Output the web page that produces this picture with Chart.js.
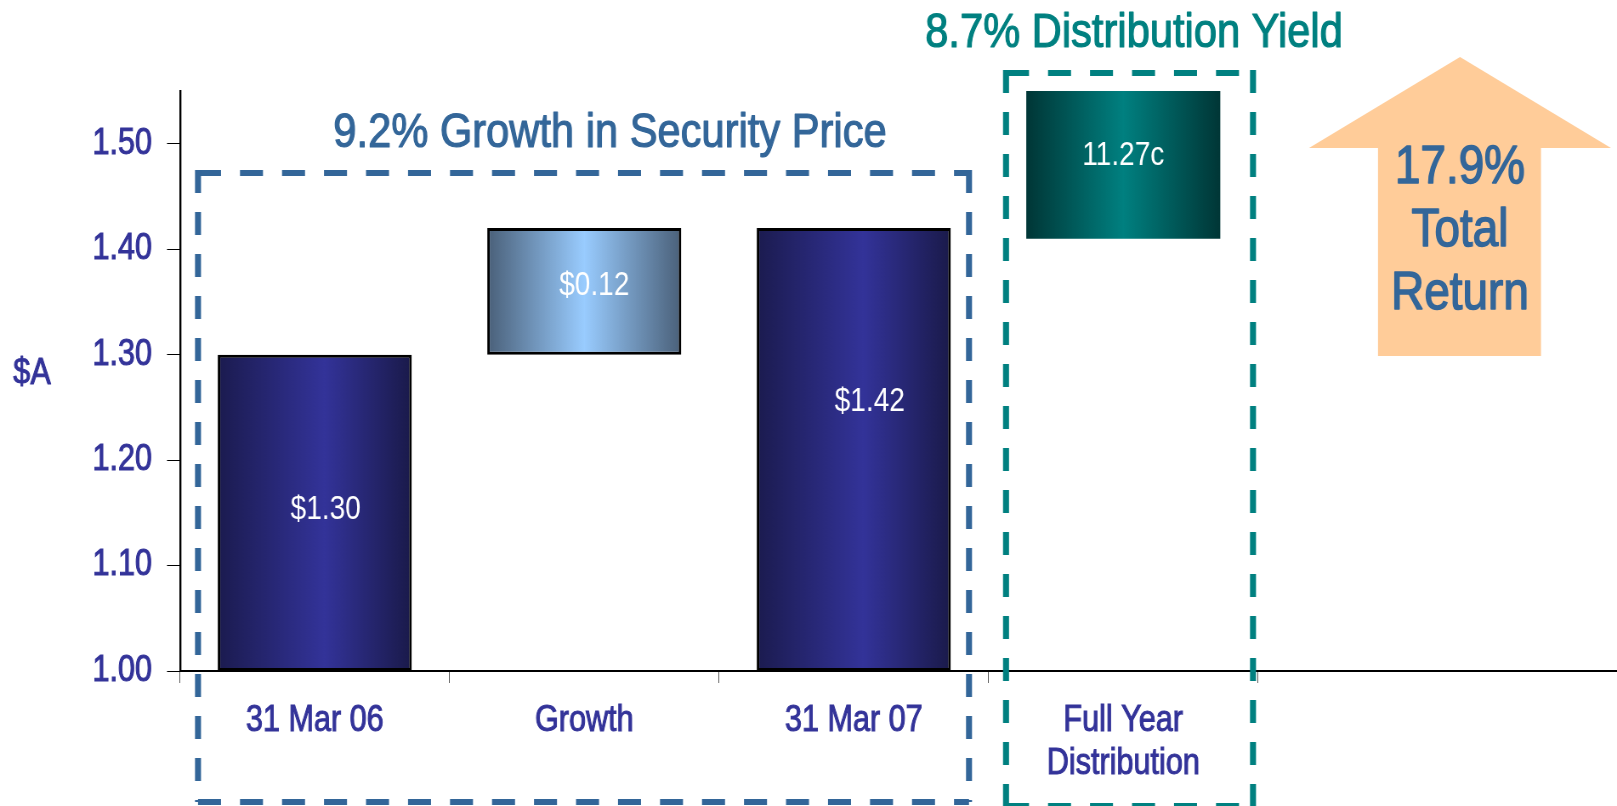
<!DOCTYPE html>
<html>
<head>
<meta charset="utf-8">
<title>Total Return</title>
<script src="https://cdn.jsdelivr.net/npm/chart.js@4.4.1/dist/chart.umd.min.js"></script>
<style>
  html, body { margin: 0; padding: 0; background: #fff; overflow: hidden; }
  #wrap { width: 1617px; height: 806px; }
</style>
</head>
<body>
<div id="wrap"><canvas id="returnChart" width="1902" height="806" style="width:1617px;height:806px"></canvas></div>
<script>
// ── Security price growth + distribution = total return ──

const categories = ['31 Mar 06', 'Growth', '31 Mar 07', ['Full Year', 'Distribution']];
const barFrom = [1.00, 1.30, 1.00, 1.41];
const barTo = [1.30, 1.42, 1.42, 1.55];
const barLabels = ['$1.30', '$0.12', '$1.42', '11.27c'];
const yTicks = [1.00, 1.10, 1.20, 1.30, 1.40, 1.50];
const growthTitle = '9.2% Growth in Security Price';
const yieldTitle = '8.7% Distribution Yield';
const totalReturn = ['17.9%', 'Total', 'Return'];

// canvas is drawn wide and squeezed by CSS, so Liberation Sans reads like a narrow face
const K = 1617 / 1902;
const X = v => v / K;

const FONT = '"Liberation Sans", Arial, sans-serif';
const INK = '#333399', STEEL = '#336699', TEAL = '#008080';

// dark edge / bright middle / dark edge, per bar
const shades = [
  ['#1b1b4f', '#333399', '#1a1a4a', 0.55],
  ['#4a6079', '#99ccff', '#4a6079', 0.5],
  ['#1b1b4f', '#333399', '#1a1a4a', 0.55],
  ['#003636', '#008080', '#003636', 0.5]
];

const shadePlugin = {
  id: 'shade',
  beforeDatasetsDraw(chart) {
    const ctx = chart.ctx;
    chart.getDatasetMeta(0).data.forEach((bar, i) => {
      const { x, width } = bar.getProps(['x', 'width'], true);
      const s = shades[i];
      const g = ctx.createLinearGradient(x - width / 2, 0, x + width / 2, 0);
      g.addColorStop(0, s[0]); g.addColorStop(s[3], s[1]); g.addColorStop(1, s[2]);
      bar.options = Object.assign({}, bar.options, { backgroundColor: g });
    });
  }
};

const barTextPlugin = {
  id: 'barText',
  afterDatasetsDraw(chart, args, opts) {
    const ctx = chart.ctx;
    ctx.save();
    ctx.fillStyle = '#fff';
    ctx.font = '33px ' + FONT;
    ctx.textAlign = 'center';
    ctx.textBaseline = 'middle';
    chart.getDatasetMeta(0).data.forEach((bar, i) => {
      const { x, y, base } = bar.getProps(['x', 'y', 'base'], true);
      ctx.fillText(barLabels[i], x + X(opts.dx[i]), (y + base) / 2 + opts.dy[i]);
    });
    ctx.restore();
  }
};

// filled text with a thin same-colour stroke, for the slide's medium weight
function heavyText(ctx, text, x, y, color, stroke) {
  ctx.fillStyle = color;
  ctx.strokeStyle = color;
  ctx.lineWidth = stroke;
  ctx.lineJoin = 'round';
  ctx.strokeText(text, x, y);
  ctx.fillText(text, x, y);
}

function dashedBox(ctx, color, l, t, r, b) {
  ctx.strokeStyle = color;
  ctx.lineCap = 'butt';
  // horizontal sides
  ctx.lineWidth = 6;
  ctx.setLineDash([X(23), X(19)]);
  ctx.beginPath(); ctx.moveTo(X(l), t); ctx.lineTo(X(r), t); ctx.stroke();
  ctx.beginPath(); ctx.moveTo(X(l), b); ctx.lineTo(X(r), b); ctx.stroke();
  // vertical sides
  ctx.lineWidth = X(6);
  ctx.setLineDash([23, 19]);
  ctx.beginPath(); ctx.moveTo(X(l), t - 3); ctx.lineTo(X(l), b); ctx.stroke();
  ctx.beginPath(); ctx.moveTo(X(r), t - 3); ctx.lineTo(X(r), b); ctx.stroke();
  ctx.setLineDash([]);
}

const decorPlugin = {
  id: 'decor',
  afterDraw(chart) {
    const ctx = chart.ctx, area = chart.chartArea;
    ctx.save();

    // x axis runs on to the page edge
    ctx.strokeStyle = '#000'; ctx.lineWidth = 2;
    ctx.beginPath(); ctx.moveTo(area.right, area.bottom); ctx.lineTo(chart.width, area.bottom); ctx.stroke();

    // "$A" axis caption
    ctx.font = '36px ' + FONT;
    ctx.textAlign = 'center'; ctx.textBaseline = 'middle';
    heavyText(ctx, '$A', X(32), 374, INK, 1);

    // dashed groupings
    dashedBox(ctx, STEEL, 198, 173, 969, 802);
    dashedBox(ctx, TEAL, 1006, 73, 1253, 806);

    ctx.font = '49px ' + FONT; ctx.textBaseline = 'alphabetic';
    heavyText(ctx, growthTitle, X(610), 147, STEEL, 1.2);
    heavyText(ctx, yieldTitle, X(1134), 47, TEAL, 1.2);

    // total return arrow
    ctx.fillStyle = '#ffcc99';
    ctx.beginPath();
    ctx.moveTo(X(1460), 57); ctx.lineTo(X(1611), 148); ctx.lineTo(X(1541), 148); ctx.lineTo(X(1541), 356);
    ctx.lineTo(X(1378), 356); ctx.lineTo(X(1378), 148); ctx.lineTo(X(1309), 148); ctx.closePath();
    ctx.fill();
    ctx.font = '54px ' + FONT; ctx.textBaseline = 'middle';
    totalReturn.forEach((t, i) => heavyText(ctx, t, X(1460), 168 + i * 63, STEEL, 1.5));

    ctx.restore();
  }
};

new Chart(document.getElementById('returnChart').getContext('2d'), {
  type: 'bar',
  data: {
    labels: categories,
    datasets: [{
      data: barFrom.map((lo, i) => [lo, barTo[i]]),
      backgroundColor: shades.map(s => s[1]),
      borderColor: '#000',
      borderWidth: [3, 3, 3, 0],
      borderSkipped: false,
      barPercentage: 0.72,
      categoryPercentage: 1
    }]
  },
  options: {
    responsive: false,
    animation: false,
    layout: { padding: { top: 91, right: X(359), left: 0, bottom: 0 } },
    plugins: {
      legend: { display: false },
      tooltip: { enabled: false },
      barText: { dx: [11, 10, 16, 0], dy: [-3, -5, -48, -9] }
    },
    scales: {
      x: {
        grid: { offset: true, drawOnChartArea: false, tickLength: 12, color: '#555' },
        border: { color: '#000', width: 2 },
        ticks: {
          color: INK, font: { family: FONT, size: 36 }, padding: 16, maxRotation: 0, autoSkip: false,
          textStrokeColor: INK, textStrokeWidth: 1
        },
        afterFit(s) { s.height = 135; }
      },
      y: {
        min: 1.0, max: 1.55,
        afterBuildTicks(s) { s.ticks = yTicks.map(v => ({ value: v })); },
        grid: { drawOnChartArea: false, tickLength: X(13), color: '#000' },
        border: { color: '#000', width: X(2) },
        ticks: {
          color: INK, font: { family: FONT, size: 36 }, padding: X(15), callback: v => v.toFixed(2),
          textStrokeColor: INK, textStrokeWidth: 1
        },
        afterFit(s) { s.width = X(180); }
      }
    }
  },
  plugins: [shadePlugin, barTextPlugin, decorPlugin]
});
</script>
</body>
</html>
